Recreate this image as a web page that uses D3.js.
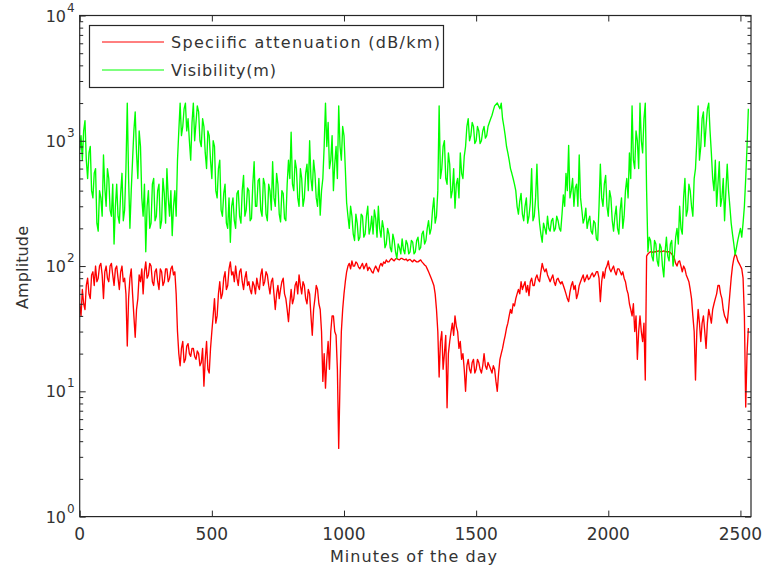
<!DOCTYPE html>
<html>
<head>
<meta charset="utf-8">
<script src="https://cdn.jsdelivr.net/npm/d3@7"></script>
<style>
  html, body { margin: 0; padding: 0; background: #fff; }
  svg { display: block; font-family: "DejaVu Sans", sans-serif; }
</style>
</head>
<body>
<svg id="chart" width="765" height="573"></svg>
<script>
// ---- data (one reading every 5 minutes) ----
const minutes = [
0,5,10,15,20,25,30,35,40,45,50,55,60,65,70,75,80,85,90,95,
100,105,110,115,120,125,130,135,140,145,150,155,160,165,170,175,180,185,190,195,
200,205,210,215,220,225,230,235,240,245,250,255,260,265,270,275,280,285,290,295,
300,305,310,315,320,325,330,335,340,345,350,355,360,365,370,375,380,385,390,395,
400,405,410,415,420,425,430,435,440,445,450,455,460,465,470,475,480,485,490,495,
500,505,510,515,520,525,530,535,540,545,550,555,560,565,570,575,580,585,590,595,
600,605,610,615,620,625,630,635,640,645,650,655,660,665,670,675,680,685,690,695,
700,705,710,715,720,725,730,735,740,745,750,755,760,765,770,775,780,785,790,795,
800,805,810,815,820,825,830,835,840,845,850,855,860,865,870,875,880,885,890,895,
900,905,910,915,920,925,930,935,940,945,950,955,960,965,970,975,980,985,990,995,
1000,1005,1010,1015,1020,1025,1030,1035,1040,1045,1050,1055,1060,1065,1070,1075,1080,1085,1090,1095,
1100,1105,1110,1115,1120,1125,1130,1135,1140,1145,1150,1155,1160,1165,1170,1175,1180,1185,1190,1195,
1200,1205,1210,1215,1220,1225,1230,1235,1240,1245,1250,1255,1260,1265,1270,1275,1280,1285,1290,1295,
1300,1305,1310,1315,1320,1325,1330,1335,1340,1345,1350,1355,1360,1365,1370,1375,1380,1385,1390,1395,
1400,1405,1410,1415,1420,1425,1430,1435,1440,1445,1450,1455,1460,1465,1470,1475,1480,1485,1490,1495,
1500,1505,1510,1515,1520,1525,1530,1535,1540,1545,1550,1555,1560,1565,1570,1575,1580,1585,1590,1595,
1600,1605,1610,1615,1620,1625,1630,1635,1640,1645,1650,1655,1660,1665,1670,1675,1680,1685,1690,1695,
1700,1705,1710,1715,1720,1725,1730,1735,1740,1745,1750,1755,1760,1765,1770,1775,1780,1785,1790,1795,
1800,1805,1810,1815,1820,1825,1830,1835,1840,1845,1850,1855,1860,1865,1870,1875,1880,1885,1890,1895,
1900,1905,1910,1915,1920,1925,1930,1935,1940,1945,1950,1955,1960,1965,1970,1975,1980,1985,1990,1995,
2000,2005,2010,2015,2020,2025,2030,2035,2040,2045,2050,2055,2060,2065,2070,2075,2080,2085,2090,2095,
2100,2105,2110,2115,2120,2125,2130,2135,2140,2145,2150,2155,2160,2165,2170,2175,2180,2185,2190,2195,
2200,2205,2210,2215,2220,2225,2230,2235,2240,2245,2250,2255,2260,2265,2270,2275,2280,2285,2290,2295,
2300,2305,2310,2315,2320,2325,2330,2335,2340,2345,2350,2355,2360,2365,2370,2375,2380,2385,2390,2395,
2400,2405,2410,2415,2420,2425,2430,2435,2440,2445,2450,2455,2460,2465,2470,2475,2480,2485,2490,2495,
2500,2505,2510,2515,2520,2525,2530];

const attenuation = [
50,40,65,50,45,70,80,60,55,85,90,70,100,75,80,100,105,85,55,90,
100,80,75,100,105,85,70,95,100,80,65,90,100,75,80,60,23,55,80,95,
60,40,27,45,55,85,75,95,60,90,108,80,85,105,100,75,70,90,95,75,
65,95,90,70,75,95,95,75,80,95,100,85,90,60,30,20,16,22,25,17,
18,23,24,20,19,22,22,19,18,21,20,16,17,22,11,18,25,15,14,22,
30,40,55,35,40,60,75,55,60,80,90,65,70,95,108,85,90,75,100,80,
70,90,95,75,65,80,90,70,75,65,60,75,70,60,80,70,65,85,95,70,
75,90,85,70,60,75,80,60,45,60,70,55,65,75,80,60,55,45,36,50,
65,50,55,70,75,60,85,70,60,75,70,55,50,65,60,40,28,45,55,70,
65,50,45,30,12,20,10.6,18,25,15,30,40,40,30,28,15,3.5,12,30,45,
60,75,90,100,105,95,110,100,100,108,105,98,95,100,105,95,100,105,92,98,
95,90,88,95,100,95,90,100,105,100,108,105,112,108,108,112,115,112,110,114,
115,113,112,115,115,113,112,114,110,112,113,110,108,112,110,108,108,110,112,108,
105,102,100,95,90,85,80,75,70,60,45,30,13,25,30,15,20,28,7.4,20,
25,30,35,28,40,33,30,22,25,18,20,15,10,16,18,15,14,17,18,14,
15,18,17,15,14,16,20,16,15,17,16,15,14,16,15,12,10,14,18,20,
22,25,28,32,35,40,45,42,50,48,55,60,65,60,75,65,70,75,62,70,
58,75,80,70,70,80,85,78,75,90,105,95,90,95,85,80,75,80,85,75,
70,78,80,75,72,75,70,65,60,55,52,62,70,75,65,70,55,60,70,75,
80,85,75,80,85,78,80,85,88,82,85,90,90,80,52,75,90,80,95,100,
110,95,90,95,100,90,85,95,95,90,85,90,80,75,65,60,50,45,40,50,
30,40,18,30,40,30,25,35,12.3,120,125,128,130,130,128,130,130,131,132,131,
130,131,132,131,130,130,130,128,125,120,115,105,100,108,110,100,90,100,95,85,
80,75,65,55,40,30,12.3,30,45,35,25,35,40,30,22,35,45,40,35,45,
50,55,60,70,70,60,55,45,40,38,35,45,60,80,100,115,125,120,110,105,
100,95,80,40,7.5,20,32];

const visibility = [
850,1100,700,1200,1450,700,500,800,900,400,350,550,600,220,190,400,350,250,770,420,
300,600,500,280,250,450,150,300,450,250,220,380,550,230,280,600,2000,500,200,400,
700,1200,1700,800,500,1200,900,350,250,450,130,300,400,200,220,450,500,230,250,400,
450,200,230,500,380,220,600,350,250,400,175,300,400,250,700,1200,2000,1100,1300,1800,
2000,1200,1500,1000,700,1400,2000,1000,1400,1900,1700,1000,900,1500,1300,800,600,1200,1100,700,
500,1000,900,400,350,600,700,280,250,380,450,220,200,350,155,300,350,230,200,380,
400,250,220,400,530,250,280,420,400,230,240,450,680,300,300,480,500,280,250,500,
450,260,230,450,400,280,680,350,300,550,450,260,225,400,380,240,230,450,700,500,
1170,450,400,700,600,350,300,600,500,300,350,550,650,400,1000,500,400,700,550,350,
300,500,255,400,500,900,2000,900,1400,600,700,1100,400,650,900,500,1900,900,700,1300,
1100,600,320,250,200,300,250,180,160,260,220,160,170,260,250,170,180,250,300,180,
200,250,180,280,240,170,300,200,170,230,200,140,150,200,180,140,130,180,160,130,
115,150,140,125,165,135,125,160,150,125,130,160,155,125,130,160,170,135,140,180,
190,150,160,200,230,180,200,280,350,220,250,400,1900,500,600,900,1000,500,450,800,
650,350,400,600,290,450,500,350,800,550,500,750,900,1300,1500,1000,1100,1400,1300,950,
1000,1300,1200,950,1000,1200,1300,1050,1100,1300,1400,1500,1600,1750,1900,1950,2000,1900,1800,2000,
1500,1300,1100,900,800,700,600,550,500,450,400,300,260,330,380,260,230,300,350,220,
250,320,600,230,250,350,650,300,220,180,155,220,200,180,250,200,190,230,240,190,
200,250,230,200,190,260,370,300,550,400,920,350,400,500,300,420,450,300,770,350,
280,220,240,290,200,230,250,190,180,230,220,165,160,300,650,350,300,450,530,300,
250,400,350,230,190,250,300,200,180,280,350,200,250,400,500,350,800,500,1900,700,
600,1200,1000,600,2000,1000,800,1500,2000,400,130,170,160,120,110,160,150,110,100,150,
140,100,82,130,170,120,110,150,160,100,120,170,200,150,300,200,180,350,500,250,
280,450,400,300,250,500,600,1000,1900,700,900,1500,1700,900,1300,1800,2000,1200,800,500,
400,700,300,450,680,300,350,500,230,400,650,400,300,220,180,150,123,140,160,180,
200,170,220,300,500,900,1800];

const seriesNames = ["Speciific attenuation (dB/km)", "Visibility(m)"];
const seriesColors = ["#ff0000", "#00ff00"];
const xTicks = [0, 500, 1000, 1500, 2000, 2500];
const yExponents = [0, 1, 2, 3, 4];
const xLabel = "Minutes of the day";
const yLabel = "Amplitude";

// ---- layout ----
const svg = d3.select("#chart");
const plot = { left: 79.7, right: 751, top: 15.5, bottom: 516.6 };
const axisColor = "#262626";
const textColor = "#333";
const fontSize = 16;

const x = d3.scaleLinear().domain([0, 2540]).range([plot.left, plot.right]);
const y = d3.scaleLog().domain([1, 10000]).range([plot.bottom, plot.top]);

const series = [attenuation, visibility].map((vals, i) => ({
  name: seriesNames[i], color: seriesColors[i],
  points: minutes.map((m, j) => ({ m, v: vals[j] }))
}));

svg.append("clipPath").attr("id", "plotclip").append("rect")
  .attr("x", plot.left).attr("y", plot.top)
  .attr("width", plot.right - plot.left).attr("height", plot.bottom - plot.top);

const line = d3.line().x(d => x(d.m)).y(d => y(d.v));
svg.append("g").attr("clip-path", "url(#plotclip)")
  .selectAll("path").data(series).join("path")
  .attr("d", d => line(d.points))
  .attr("fill", "none")
  .attr("stroke", d => d.color)
  .attr("stroke-width", 1.35)
  .attr("stroke-linejoin", "round");

// ---- axes (boxed, ticks inward) ----
const minorTicks = [];
yExponents.slice(0, -1).forEach(e => { for (let k = 2; k <= 9; k++) minorTicks.push(k * Math.pow(10, e)); });
const majorY = yExponents.map(e => Math.pow(10, e));

function yAxis(gen, xpos) {
  const g = svg.append("g").attr("transform", `translate(${xpos},0)`);
  g.call(gen(y).tickValues(majorY).tickSize(-6).tickFormat(""));
  g.append("g").call(gen(y).tickValues(minorTicks).tickSize(-3.5).tickFormat(""));
  g.selectAll("path.domain").remove();
  g.selectAll("line").attr("stroke", axisColor);
}
yAxis(d3.axisLeft, plot.left);
yAxis(d3.axisRight, plot.right);

function xAxis(gen, ypos) {
  const g = svg.append("g").attr("transform", `translate(0,${ypos})`);
  g.call(gen(x).tickValues(xTicks).tickSize(-6).tickFormat(""));
  g.selectAll("path.domain").remove();
  g.selectAll("line").attr("stroke", axisColor);
}
xAxis(d3.axisBottom, plot.bottom);
xAxis(d3.axisTop, plot.top);

svg.append("rect")
  .attr("x", plot.left).attr("y", plot.top)
  .attr("width", plot.right - plot.left).attr("height", plot.bottom - plot.top)
  .attr("fill", "none").attr("stroke", axisColor).attr("stroke-width", 1.2);

// x tick labels
svg.append("g").selectAll("text").data(xTicks).join("text")
  .attr("x", d => x(d)).attr("y", plot.bottom + 23)
  .attr("text-anchor", "middle").attr("font-size", 17).attr("fill", textColor)
  .text(d => d);

// y tick labels (10 with superscript exponent)
svg.append("g").selectAll("text").data(yExponents).join("text")
  .attr("x", 66).attr("y", d => y(Math.pow(10, d)) + 6)
  .attr("text-anchor", "end").attr("font-size", fontSize).attr("fill", textColor)
  .text("10");
svg.append("g").selectAll("text").data(yExponents).join("text")
  .attr("x", 67).attr("y", d => y(Math.pow(10, d)) - 4)
  .attr("font-size", 12).attr("fill", textColor)
  .text(d => d);

// axis titles
svg.append("text").attr("x", 330).attr("y", 562)
  .attr("textLength", 167).attr("lengthAdjust", "spacing")
  .attr("font-size", fontSize).attr("fill", textColor)
  .text(xLabel);
svg.append("text").attr("transform", `translate(28,309) rotate(-90)`)
  .attr("textLength", 83).attr("lengthAdjust", "spacing")
  .attr("font-size", fontSize).attr("fill", textColor)
  .text(yLabel);

// legend
const lg = svg.append("g");
lg.append("rect").attr("x", 89.5).attr("y", 25.5).attr("width", 354).attr("height", 62)
  .attr("fill", "#fff").attr("stroke", axisColor).attr("stroke-width", 1.2);
const legendLengths = [269, 105];
series.forEach((s, i) => {
  const yy = 42 + i * 28;
  lg.append("line").attr("x1", 102).attr("x2", 164).attr("y1", yy).attr("y2", yy)
    .attr("stroke", s.color).attr("stroke-width", 1);
  lg.append("text").attr("x", 171).attr("y", yy + 6)
    .attr("textLength", legendLengths[i]).attr("lengthAdjust", "spacing")
    .attr("font-size", fontSize).attr("fill", textColor).text(s.name);
});
</script>
</body>
</html>
